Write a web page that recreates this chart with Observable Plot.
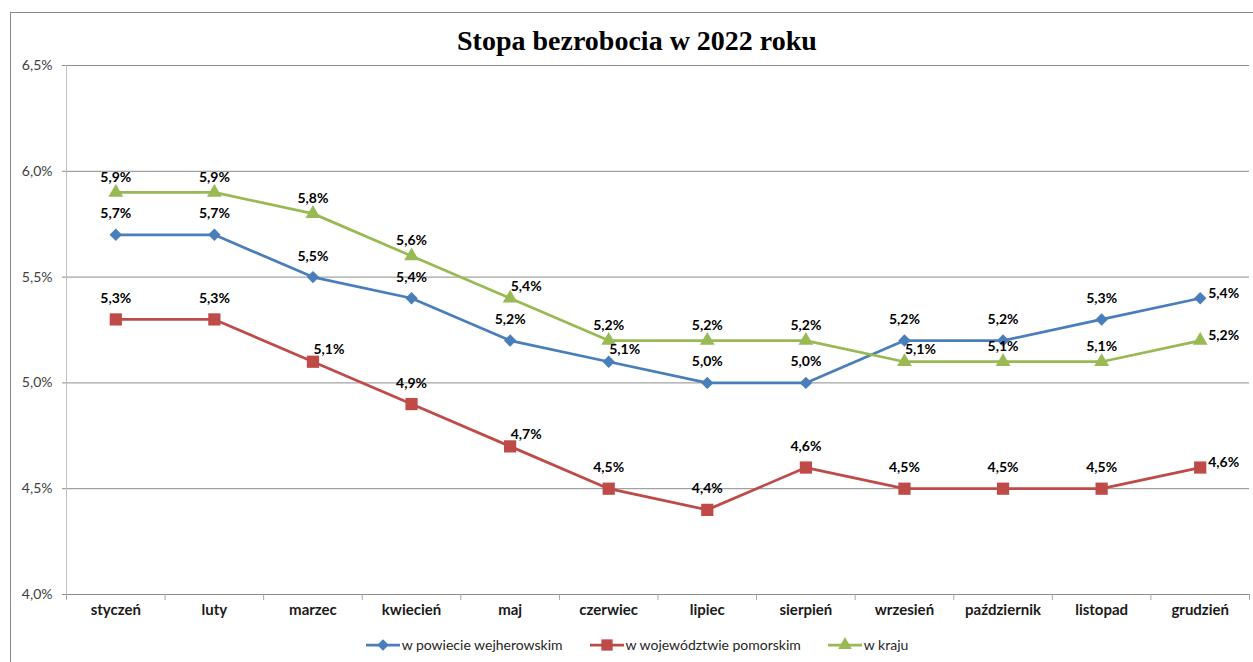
<!DOCTYPE html>
<html><head><meta charset="utf-8">
<script src="https://cdn.jsdelivr.net/npm/d3@7"></script>
<script src="https://cdn.jsdelivr.net/npm/@observablehq/plot@0.6"></script>
<style>
body{margin:0;background:#fff;}
#wrap{position:relative;width:1253px;height:662px;overflow:hidden;font-family:Lato,"Open Sans",sans-serif;}
#chart{position:absolute;left:0;top:0;}
#border{position:absolute;left:10px;top:12px;width:1264px;height:690px;border:1px solid #898989;box-sizing:border-box;pointer-events:none;}
#title{position:absolute;left:0;width:1274px;top:24px;text-align:center;font-family:"Liberation Serif","Times New Roman",serif;font-weight:bold;font-size:28px;color:#000;line-height:34px;}
#legend{position:absolute;left:0;width:1274px;top:636px;display:flex;justify-content:center;align-items:center;gap:27px;font-size:14px;color:#262626;}
.item{display:flex;align-items:center;gap:2px;}
</style></head>
<body>
<div id="wrap">
  <div id="chart"></div>
  <div id="title">Stopa bezrobocia w 2022 roku</div>
  <div id="legend"></div>
  <div id="border"></div>
</div>
<script>
const months = ["styczeń","luty","marzec","kwiecień","maj","czerwiec","lipiec","sierpień","wrzesień","październik","listopad","grudzień"];
const powiat = [5.7,5.7,5.5,5.4,5.2,5.1,5.0,5.0,5.2,5.2,5.3,5.4];
const wojewodztwo = [5.3,5.3,5.1,4.9,4.7,4.5,4.4,4.6,4.5,4.5,4.5,4.6];
const kraj = [5.9,5.9,5.8,5.6,5.4,5.2,5.2,5.2,5.1,5.1,5.1,5.2];
const seriesNames = ["w powiecie wejherowskim","w województwie pomorskim","w kraju"];
const yTicks = [4.0,4.5,5.0,5.5,6.0,6.5];

// label placement (style only)
const posPowiat = ["t","t","t","t","t","tr","t","t","t","t","t","r"];
const posWoj    = ["t","t","tr","t","tr","t","t","t","t","t","t","r"];
const posKraj   = ["t","t","t","t","tr","t","t","t","tr","t","t","r"];

const colors = ["#4A7EBB","#BE4B48","#98B954"];
const symbols = ["diamond2","square","triangle"];
const radii = [5.6,6.9,5.5];
const topDy = [-21,-21,-15];

const seriesVals = [powiat, wojewodztwo, kraj];
const seriesPos = [posPowiat, posWoj, posKraj];
const rows = [];
seriesVals.forEach((vals, s) => vals.forEach((v, i) => rows.push({series: seriesNames[s], s, month: months[i], value: v, pos: seriesPos[s][i]})));

const W = 1253, H = 662, ML = 66, MR = 4, MT = 65, MB = 68;
const step = (W - ML - MR) / months.length;
const fmt = d => d.toFixed(1).replace(".", ",") + "%";

const labelMarks = [];
seriesNames.forEach((name, s) => {
  const sub = rows.filter(r => r.s === s);
  labelMarks.push(Plot.text(sub.filter(r => r.pos === "t"), {x: "month", y: "value", text: r => fmt(r.value), dy: topDy[s], fontWeight: "bold", fontSize: 14, fill: "#000"}));
  labelMarks.push(Plot.text(sub.filter(r => r.pos === "tr"), {x: "month", y: "value", text: r => fmt(r.value), dx: 16, dy: -12, fontWeight: "bold", fontSize: 14, fill: "#000"}));
  labelMarks.push(Plot.text(sub.filter(r => r.pos === "r"), {x: "month", y: "value", text: r => fmt(r.value), dx: 8, dy: -5, textAnchor: "start", fontWeight: "bold", fontSize: 14, fill: "#000"}));
});

const chart = Plot.plot({
  width: W, height: H,
  marginLeft: ML, marginRight: MR, marginTop: MT, marginBottom: MB,
  style: {background: "transparent", fontFamily: "Lato, 'Open Sans', sans-serif"},
  x: {type: "point", domain: months, padding: 0.5, round: false, label: null},
  y: {domain: [4.0, 6.5], label: null},
  color: {domain: seriesNames, range: colors},
  marks: [
    Plot.gridY(yTicks, {stroke: "#8c8c8c", strokeOpacity: 1}),
    Plot.frame({anchor: "left", stroke: "#bfbfbf"}),
    Plot.ruleX(months, {x: d => d, dx: -step / 2, y1: () => 4.0, y2: () => 4.0, insetBottom: -6, stroke: "#a6a6a6"}),
    Plot.ruleX([months[months.length - 1]], {x: d => d, dx: step / 2, y1: () => 4.0, y2: () => 4.0, insetBottom: -6, stroke: "#a6a6a6"}),
    Plot.axisY(yTicks, {tickSize: 4, tickPadding: 10, stroke: "#8c8c8c", fill: "#404040", fontSize: 14, tickFormat: fmt, label: null}),
    Plot.axisX({tickSize: 0, tickPadding: 10, fontSize: 15, fontWeight: "bold", fill: "#1a1a1a", label: null}),
    Plot.line(rows, {x: "month", y: "value", stroke: "series", z: "series", strokeWidth: 2.75}),
    ...seriesNames.map((name, s) => Plot.dot(rows.filter(r => r.s === s), {x: "month", y: "value", symbol: () => symbols[s], r: radii[s], fill: colors[s], stroke: "none"})),
    ...labelMarks
  ]
});
document.getElementById("chart").appendChild(chart);

// legend
const legend = document.getElementById("legend");
seriesNames.forEach((name, s) => {
  const item = document.createElement("div");
  item.className = "item";
  const sym = d3.symbol(d3["symbol" + (symbols[s] === "diamond2" ? "Diamond2" : symbols[s] === "square" ? "Square" : "Triangle")], Math.PI * radii[s] * radii[s] * 0.85)();
  item.innerHTML = `<svg width="34" height="16"><line x1="0" x2="34" y1="8" y2="8" stroke="${colors[s]}" stroke-width="2.75"/><path d="${sym}" transform="translate(17,8)" fill="${colors[s]}"/></svg><span>${name}</span>`;
  legend.appendChild(item);
});
</script>
</body></html>
